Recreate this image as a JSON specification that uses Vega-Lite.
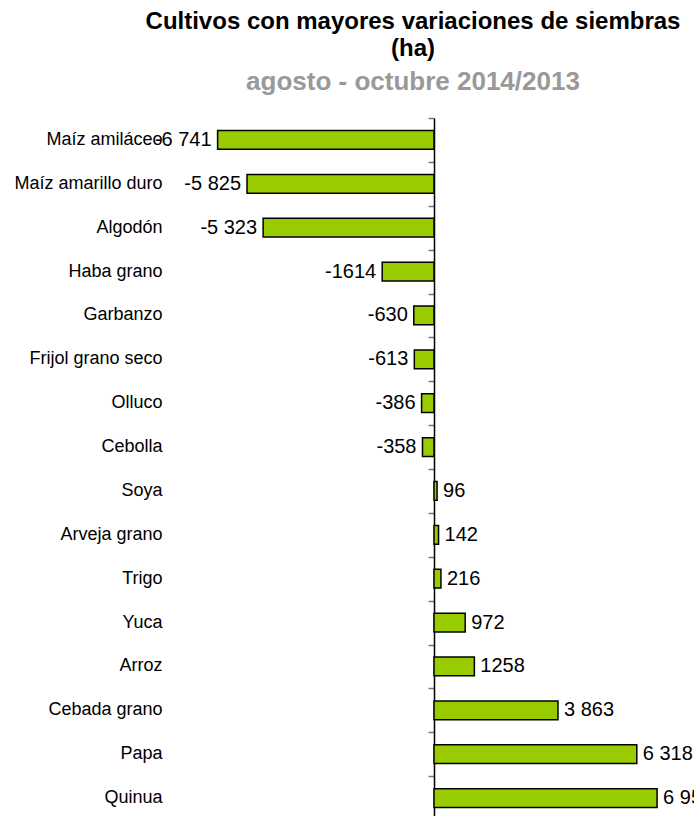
{
  "$schema": "https://vega.github.io/schema/vega-lite/v6.json",
  "autosize": {"type": "none"},
  "padding": {"left": 170, "top": 118, "right": 0, "bottom": 0},
  "width": 524,
  "height": 702,
  "background": "white",
  "config": {"view": {"stroke": null}},
  "title": {
    "text": ["Cultivos con mayores variaciones de siembras", "(ha)"],
    "subtitle": "agosto - octubre 2014/2013",
    "anchor": "middle",
    "dx": -19,
    "font": "Liberation Sans",
    "fontSize": 24,
    "fontWeight": "bold",
    "color": "#000000",
    "lineHeight": 27,
    "subtitleFont": "Liberation Sans",
    "subtitleFontSize": 26,
    "subtitleFontWeight": "bold",
    "subtitleColor": "#999999",
    "subtitlePadding": 8,
    "offset": 22
  },
  "data": {
    "values": [
      {"cultivo": "Maíz amiláceo", "valor": -6741, "label": "-6 741"},
      {"cultivo": "Maíz amarillo duro", "valor": -5825, "label": "-5 825"},
      {"cultivo": "Algodón", "valor": -5323, "label": "-5 323"},
      {"cultivo": "Haba grano", "valor": -1614, "label": "-1614"},
      {"cultivo": "Garbanzo", "valor": -630, "label": "-630"},
      {"cultivo": "Frijol grano seco", "valor": -613, "label": "-613"},
      {"cultivo": "Olluco", "valor": -386, "label": "-386"},
      {"cultivo": "Cebolla", "valor": -358, "label": "-358"},
      {"cultivo": "Soya", "valor": 96, "label": "96"},
      {"cultivo": "Arveja grano", "valor": 142, "label": "142"},
      {"cultivo": "Trigo", "valor": 216, "label": "216"},
      {"cultivo": "Yuca", "valor": 972, "label": "972"},
      {"cultivo": "Arroz", "valor": 1258, "label": "1258"},
      {"cultivo": "Cebada grano", "valor": 3863, "label": "3 863"},
      {"cultivo": "Papa", "valor": 6318, "label": "6 318"},
      {"cultivo": "Quinua", "valor": 6950, "label": "6 950"}
    ]
  },
  "layer": [
    {
      "mark": {"type": "bar", "fill": "#99CC00", "stroke": "#000000", "strokeWidth": 1.5, "height": {"band": 0.43}},
      "encoding": {
        "x": {"field": "valor", "type": "quantitative", "scale": {"domain": [-8224, 8100], "nice": false, "zero": false}, "axis": null},
        "y": {
          "field": "cultivo", "type": "nominal", "sort": null,
          "scale": {"paddingInner": 0, "paddingOuter": 0},
          "axis": {"orient": "left", "title": null, "ticks": false, "domain": false, "labelFont": "Liberation Sans", "labelFontSize": 18, "labelColor": "#000000", "labelPadding": 8, "labelLimit": 300}
        }
      }
    },
    {
      "transform": [{"filter": "datum.valor < 0"}],
      "mark": {"type": "text", "align": "right", "baseline": "middle", "dx": -6, "font": "Liberation Sans", "fontSize": 20, "color": "#000000"},
      "encoding": {
        "x": {"field": "valor", "type": "quantitative"},
        "y": {"field": "cultivo", "type": "nominal", "sort": null, "axis": null},
        "text": {"field": "label"}
      }
    },
    {
      "transform": [{"filter": "datum.valor >= 0"}],
      "mark": {"type": "text", "align": "left", "baseline": "middle", "dx": 6, "font": "Liberation Sans", "fontSize": 20, "color": "#000000"},
      "encoding": {
        "x": {"field": "valor", "type": "quantitative"},
        "y": {
          "field": "cultivo", "type": "nominal", "sort": null,
          "axis": {"orient": "left", "offset": -264, "title": null, "labels": false, "ticks": true, "tickBand": "extent", "tickSize": 6, "tickColor": "#777777", "tickWidth": 1.5, "domain": true, "domainColor": "#000000", "domainWidth": 1.5, "grid": false}
        },
        "text": {"field": "label"}
      }
    }
  ],
  "resolve": {"axis": {"y": "independent"}}
}
